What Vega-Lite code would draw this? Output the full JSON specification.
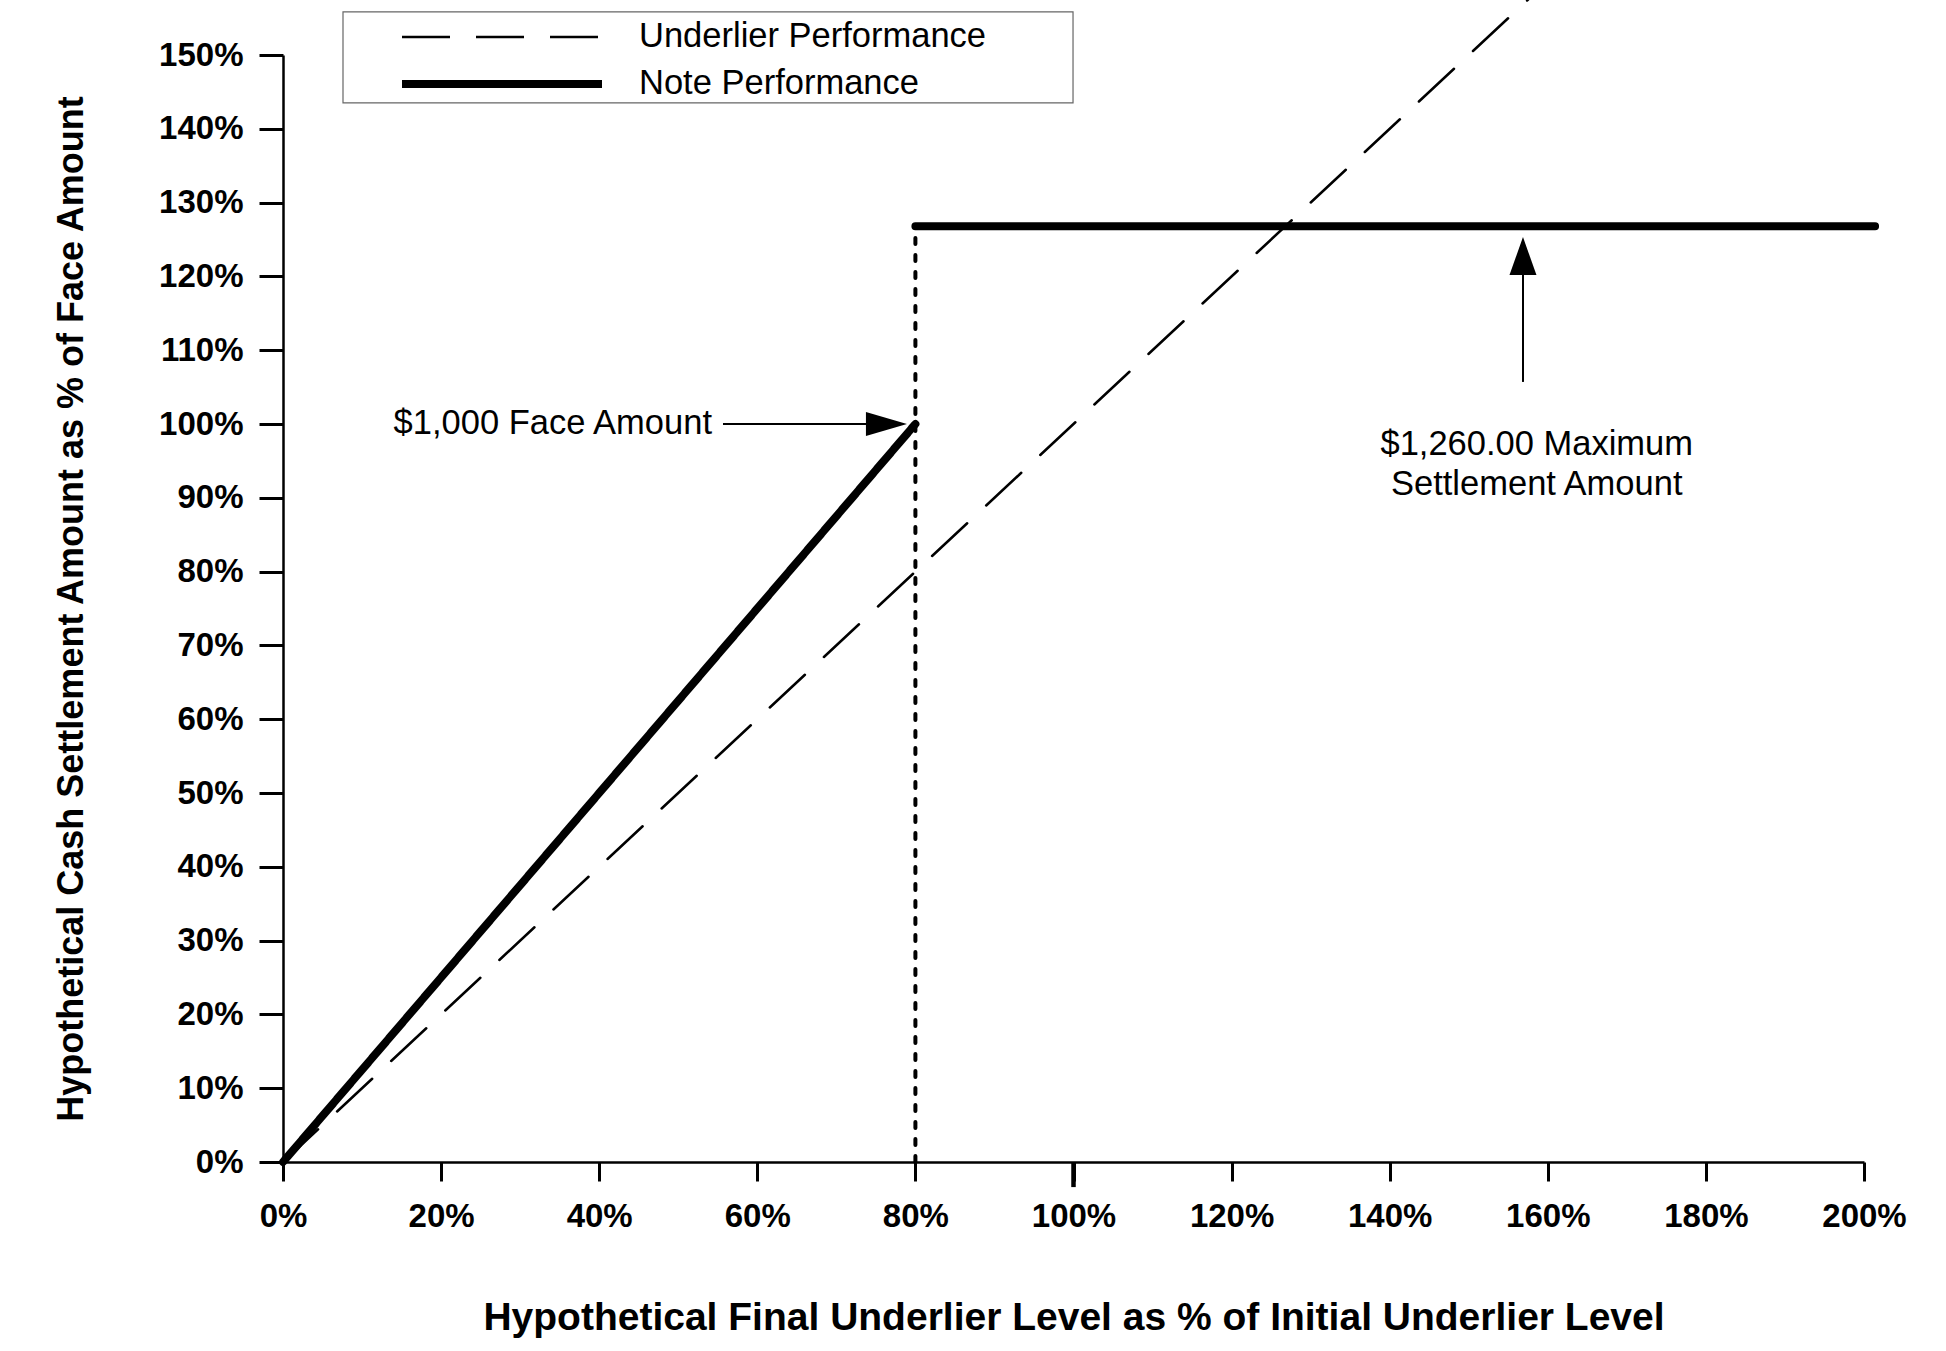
{
  "$schema": "https://vega.github.io/schema/vega-lite/v6.json",
  "description": "Hypothetical cash settlement amount vs final underlier level",
  "width": 1581,
  "height": 1107,
  "autosize": {"type": "none"},
  "padding": {"left": 283, "top": 55, "right": 82, "bottom": 189},
  "background": "white",
  "config": {
    "view": {"stroke": null},
    "font": "Liberation Sans",
    "axis": {
      "grid": false,
      "domainColor": "black",
      "domainWidth": 2.5,
      "tickColor": "black",
      "tickWidth": 3,
      "labelColor": "black",
      "labelFont": "Liberation Sans",
      "labelFontSize": 33,
      "labelFontWeight": "bold",
      "labelFlush": false,
      "labelOverlap": false,
      "titleColor": "black",
      "titleFont": "Liberation Sans",
      "titleFontWeight": "bold"
    }
  },
  "layer": [
    {
      "data": {"values": [{}]},
      "mark": {"type": "rect", "fill": "white", "stroke": "#666666", "strokeWidth": 1.2},
      "encoding": {
        "x": {"datum": 7.59, "type": "quantitative"},
        "x2": {"datum": 99.94},
        "y": {"datum": 155.83, "type": "quantitative"},
        "y2": {"datum": 143.5}
      }
    },
    {
      "data": {
        "values": [
          {"series": "Underlier Performance", "seg": "u", "x": 0, "y": 0},
          {"series": "Underlier Performance", "seg": "u", "x": 158, "y": 158},
          {"series": "Note Performance", "seg": "n1", "x": 0, "y": 0},
          {"series": "Note Performance", "seg": "n1", "x": 80, "y": 100},
          {"series": "Note Performance", "seg": "n2", "x": 80, "y": 126.8},
          {"series": "Note Performance", "seg": "n2", "x": 201.4, "y": 126.8}
        ]
      },
      "mark": {"type": "line", "color": "black", "strokeCap": "round", "clip": false},
      "encoding": {
        "x": {
          "field": "x",
          "type": "quantitative",
          "scale": {"domain": [0, 200], "nice": false, "zero": false},
          "axis": {
            "values": [0, 20, 40, 60, 80, 100, 120, 140, 160, 180, 200],
            "labelExpr": "datum.value + '%'",
            "tickSize": 19,
            "labelPadding": 19,
            "title": "Hypothetical Final Underlier Level as % of Initial Underlier Level",
            "titleFontSize": 39,
            "titlePadding": 65
          }
        },
        "y": {
          "field": "y",
          "type": "quantitative",
          "scale": {"domain": [0, 150], "nice": false, "zero": false},
          "axis": {
            "values": [0, 10, 20, 30, 40, 50, 60, 70, 80, 90, 100, 110, 120, 130, 140, 150],
            "labelExpr": "datum.value + '%'",
            "tickSize": 24,
            "labelPadding": 16,
            "title": "Hypothetical Cash Settlement Amount as % of Face Amount",
            "titleFontSize": 36,
            "titlePadding": 68
          }
        },
        "detail": {"field": "seg"},
        "order": {"field": "x"},
        "strokeDash": {
          "field": "series",
          "type": "nominal",
          "scale": {"domain": ["Underlier Performance", "Note Performance"], "range": [[48, 26], [1, 0]]},
          "legend": {
            "title": null,
            "orient": "none",
            "legendX": 60,
            "legendY": -43,
            "padding": 8,
            "strokeColor": null,
            "fillColor": null,
            "symbolType": "stroke",
            "symbolSize": 40000,
            "clipHeight": 34,
            "rowPadding": 12,
            "symbolOffset": 47,
            "labelOffset": 33,
            "labelFont": "Liberation Sans",
            "labelFontSize": 34.5,
            "labelFontWeight": "normal",
            "labelColor": "black",
            "labelLimit": 800,
            "encode": {"symbols": {"update": {"strokeCap": {"value": "round"}}}}
          }
        },
        "strokeWidth": {
          "field": "series",
          "type": "nominal",
          "scale": {"domain": ["Underlier Performance", "Note Performance"], "range": [2.5, 8]}
        }
      }
    },
    {
      "data": {"values": [{}]},
      "mark": {"type": "rule", "color": "black", "strokeWidth": 4, "strokeDash": [6, 11], "strokeCap": "round"},
      "encoding": {
        "x": {"datum": 80, "type": "quantitative"},
        "y": {"datum": 0, "type": "quantitative"},
        "y2": {"datum": 126.8}
      }
    },
    {
      "data": {"values": [{}]},
      "mark": {"type": "rule", "color": "black", "strokeWidth": 4.5},
      "encoding": {
        "x": {"datum": 100, "type": "quantitative"},
        "y": {"datum": 0, "type": "quantitative"},
        "y2": {"datum": -3.4}
      }
    },
    {
      "data": {"values": [{}]},
      "mark": {"type": "rule", "color": "black", "strokeWidth": 2},
      "encoding": {
        "x": {"datum": 55.66, "type": "quantitative"},
        "x2": {"datum": 73.75},
        "y": {"datum": 100, "type": "quantitative"}
      }
    },
    {
      "data": {"values": [{}]},
      "mark": {"type": "point", "shape": "M -1 -0.58 L 1 0 L -1 0.58 Z", "filled": true, "color": "black", "opacity": 1, "size": 1681, "strokeWidth": 0},
      "encoding": {
        "x": {"datum": 76.34, "type": "quantitative"},
        "y": {"datum": 100, "type": "quantitative"}
      }
    },
    {
      "data": {"values": [{}]},
      "mark": {"type": "text", "text": "$1,000 Face Amount", "align": "right", "baseline": "middle", "fontSize": 34.5, "font": "Liberation Sans", "color": "black"},
      "encoding": {
        "x": {"datum": 54.27, "type": "quantitative"},
        "y": {"datum": 100, "type": "quantitative"}
      }
    },
    {
      "data": {"values": [{}]},
      "mark": {"type": "rule", "color": "black", "strokeWidth": 2},
      "encoding": {
        "x": {"datum": 156.86, "type": "quantitative"},
        "y": {"datum": 105.7, "type": "quantitative"},
        "y2": {"datum": 120.2}
      }
    },
    {
      "data": {"values": [{}]},
      "mark": {"type": "point", "shape": "M -0.71 1 L 0 -1 L 0.71 1 Z", "filled": true, "color": "black", "opacity": 1, "size": 1444, "strokeWidth": 0},
      "encoding": {
        "x": {"datum": 156.86, "type": "quantitative"},
        "y": {"datum": 122.76, "type": "quantitative"}
      }
    },
    {
      "data": {"values": [{}]},
      "mark": {"type": "text", "text": ["$1,260.00 Maximum", "Settlement Amount"], "align": "center", "baseline": "middle", "lineHeight": 40, "fontSize": 34.5, "font": "Liberation Sans", "color": "black"},
      "encoding": {
        "x": {"datum": 158.6, "type": "quantitative"},
        "y": {"datum": 97.15, "type": "quantitative"}
      }
    }
  ]
}
